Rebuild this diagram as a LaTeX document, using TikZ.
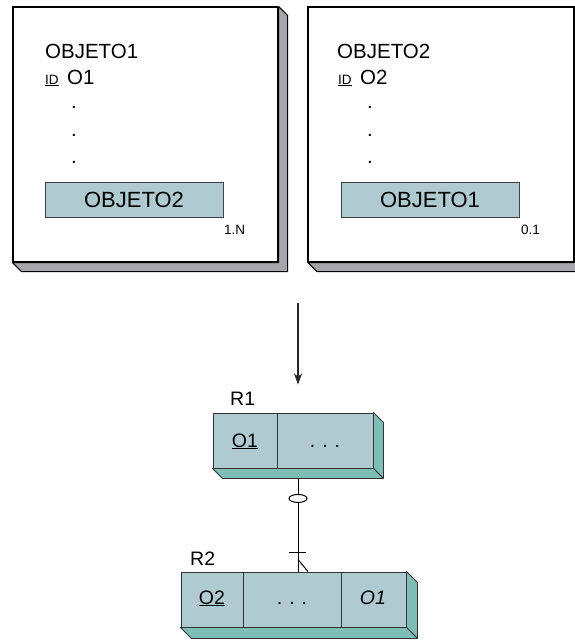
\documentclass[tikz,border=0pt]{standalone}
\usepackage{fontspec}
\setmainfont{Liberation Sans}
\usetikzlibrary{arrows.meta, positioning, calc}
\definecolor{relfront}{RGB}{175,203,209}
\definecolor{relside}{RGB}{127,190,182}
\definecolor{shadowgrey}{RGB}{166,166,170}
\newcommand{\bigtxt}{\fontsize{20.5}{21}\selectfont}
\newcommand{\boxtxt}{\fontsize{22}{23}\selectfont}
\newcommand{\midtxt}{\fontsize{19.5}{20}\selectfont}
\newcommand{\tinytxt}{\fontsize{13.5}{14}\selectfont}
\tikzstyle{objbox} = [draw, line width=1.2pt, fill=white, rectangle, minimum width=265, minimum height=255, inner sep=0]
\tikzstyle{objshadow} = [draw, line width=1pt, fill=shadowgrey, line join=round]
\tikzstyle{attrbox} = [draw=black!75, line width=0.8pt, fill=relfront, rectangle, minimum width=178, minimum height=35, inner sep=0, font=\boxtxt]
\tikzstyle{relbox} = [draw=black!80, line width=0.9pt, fill=relfront, rectangle, minimum height=55, inner sep=0]
\tikzstyle{reldepth} = [draw=black!80, line width=0.9pt, fill=relside, line join=round]
\tikzstyle{txt} = [anchor=base west, inner sep=0]
\tikzstyle{arrow} = [-{Stealth[length=11pt, width=8pt, inset=3pt]}, line width=1.1pt, black!85]

\begin{document}
\begin{tikzpicture}[x=1pt, y=-1pt]
    \useasboundingbox (0,0) rectangle (575,640);

    % Object boxes
    \node[objbox] (obj1) at (145.5,134.5) {};
    \node[objbox] (obj2) at (441,134.5) {};
    \foreach \n in {obj1,obj2} {
        \draw[objshadow] (\n.north east) -- ++(9,9) -- ($(\n.south east)+(9,9)$) -- ($(\n.south west)+(9,9)$) -- (\n.south west) -- (\n.south east) -- cycle;
        \draw[line width=1.2pt] (\n.north west) rectangle (\n.south east);
    }

    % Object 1 contents
    \node[txt, font=\bigtxt] (name1) at (45,58) {OBJETO1};
    \node[txt, font=\tinytxt] (id1) at (45,84) {\underline{ID}};
    \node[txt, font=\bigtxt] (key1) at (67,84) {O1};
    \foreach \y [count=\i] in {108,136,163} {
        \node[txt, font=\bigtxt] (dotl\i) at (71,\y) {.};
    }
    \node[attrbox] (attr1) at (134,199.5) {OBJETO2};
    \node[txt, font=\tinytxt] (card1) at (224,234) {1.N};

    % Object 2 contents
    \node[txt, font=\bigtxt] (name2) at (337,58) {OBJETO2};
    \node[txt, font=\tinytxt] (id2) at (338,84) {\underline{ID}};
    \node[txt, font=\bigtxt] (key2) at (360,84) {O2};
    \foreach \y [count=\i] in {108,136,163} {
        \node[txt, font=\bigtxt] (dotr\i) at (367,\y) {.};
    }
    \node[attrbox] (attr2) at (430,199.5) {OBJETO1};
    \node[txt, font=\tinytxt] (card2) at (521,234) {0.1};

    % Relations
    \node[relbox, minimum width=160] (r1) at (293,440.5) {};
    \node[relbox, minimum width=225] (r2) at (293.5,599.5) {};
    \foreach \n/\d in {r1/10,r2/11} {
        \draw[reldepth] (\n.north east) -- ++(\d,\d) -- ($(\n.south east)+(\d,\d)$) -- (\n.south east) -- cycle;
        \draw[reldepth] (\n.south west) -- ++(\d,\d) -- ($(\n.south east)+(\d,\d)$) -- (\n.south east) -- cycle;
    }
    \draw[black!80, line width=0.9pt] (277,413) -- (277,468);
    \draw[black!80, line width=0.9pt] (243,572) -- (243,627);
    \draw[black!80, line width=0.9pt] (341,572) -- (341,627);

    \node[txt, font=\midtxt] (r1lbl) at (230,405) {R1};
    \node[txt, font=\midtxt] (r2lbl) at (190,565) {R2};
    \node[anchor=base, inner sep=0, font=\midtxt] (r1key) at (245,447) {\underline{O1}};
    \node[anchor=base, inner sep=0, font=\midtxt] (r1rest) at (325,447) {.\hspace{7pt}.\hspace{7pt}.};
    \node[anchor=base, inner sep=0, font=\midtxt] (r2key) at (212,604) {\underline{O2}};
    \node[anchor=base, inner sep=0, font=\midtxt] (r2rest) at (292,604) {.\hspace{7pt}.\hspace{7pt}.};
    \node[anchor=base, inner sep=0, font=\midtxt\itshape] (r2fk) at (373,604) {O1};

    % Transformation arrow
    \coordinate (arr) at (298,303);
    \draw[arrow] (arr) -- ([xshift=5pt, yshift=28pt]r1.north);

    % Relationship line
    \coordinate (c1) at ([xshift=5pt, yshift=-10pt]r1.south);
    \coordinate (c2) at ([xshift=4.5pt]r2.north);
    \draw[line width=1pt] (c1) -- (c2);
    \draw[line width=1pt, fill=white] ([yshift=-20pt]c1) ellipse (9 and 4);
    \draw[line width=1pt] ([xshift=-9pt, yshift=19pt]c2) -- ([xshift=8pt, yshift=19pt]c2);
    \draw[line width=1pt] ([yshift=12pt]c2) -- ([xshift=10pt]c2);
\end{tikzpicture}
\end{document}
